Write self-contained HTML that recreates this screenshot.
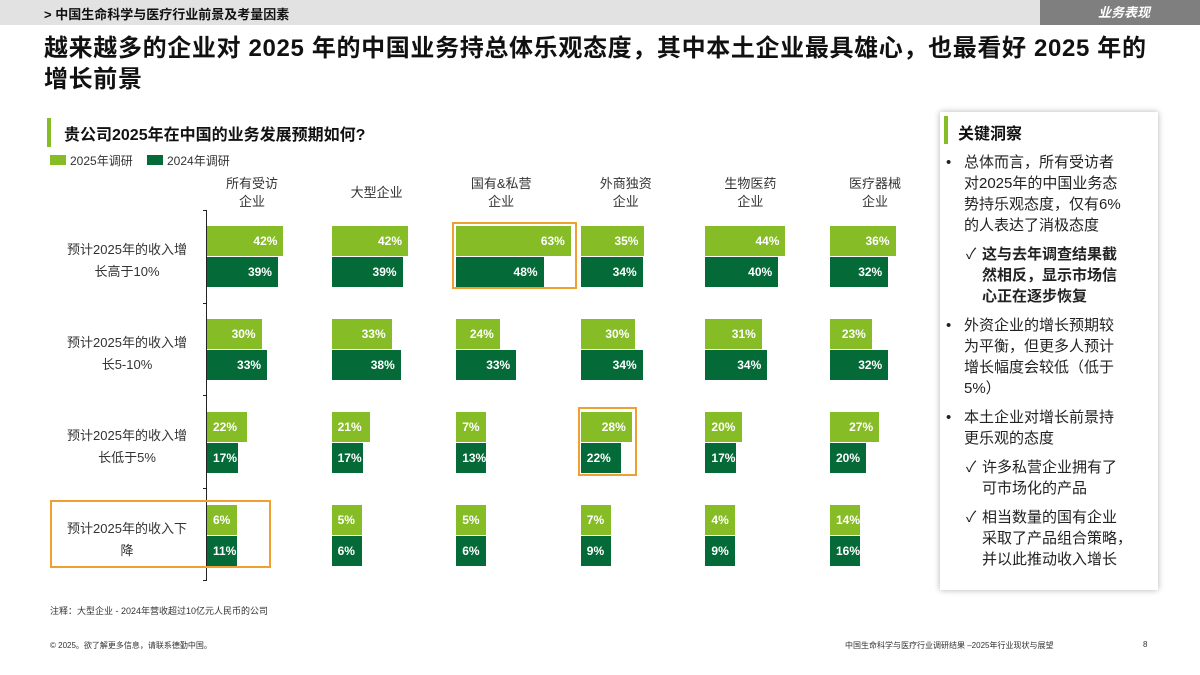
<!DOCTYPE html>
<html><head><meta charset="utf-8"><style>
body{margin:0;width:1200px;height:675px;overflow:hidden;background:#fff;font-family:"Liberation Sans","Noto Sans CJK SC",sans-serif;position:relative}
.abs{position:absolute}
.bar{position:absolute;color:#fff;font-size:12px;font-weight:bold;line-height:30px;box-sizing:border-box}
</style></head><body>
<div class="abs" style="left:0;top:0;width:1200px;height:25px;background:#e2e2e2"></div>
<div class="abs" style="left:44px;top:4px;font-size:13px;font-weight:bold;color:#111">&gt; 中国生命科学与医疗行业前景及考量因素</div>
<div class="abs" style="left:1040px;top:0;width:160px;height:25px;background:#7f7f7f;color:#fff;font-style:italic;font-weight:bold;font-size:13px;line-height:25px;text-align:right"><span style="margin-right:50px">业务表现</span></div>
<div class="abs" style="left:44px;top:33px;width:1150px;font-size:24px;letter-spacing:0.65px;font-weight:bold;line-height:31px;color:#111;white-space:nowrap">越来越多的企业对 2025 年的中国业务持总体乐观态度，其中本土企业最具雄心，也最看好 2025 年的<br>增长前景</div>
<div class="abs" style="left:47px;top:118px;width:4px;height:29px;background:#86bc25"></div>
<div class="abs" style="left:64px;top:121px;font-size:16px;font-weight:bold;color:#111">贵公司2025年在中国的业务发展预期如何?</div>
<div class="abs" style="left:50px;top:152px;font-size:12px;color:#333"><span style="display:inline-block;width:16px;height:10px;background:#86bc25;margin-right:4px"></span>2025年调研</div>
<div class="abs" style="left:147px;top:152px;font-size:12px;color:#333"><span style="display:inline-block;width:16px;height:10px;background:#046a38;margin-right:4px"></span>2024年调研</div>
<div id="chart"></div>

<div class="abs" style="left:940px;top:112px;width:218px;height:478px;background:#fff;box-shadow:0 0 6px rgba(0,0,0,0.3)">
<div class="abs" style="left:4px;top:4px;width:4px;height:28px;background:#86bc25"></div>
<div class="abs" style="left:18px;top:8px;font-size:16px;font-weight:bold;color:#111">关键洞察</div>
<div class="abs ins" style="left:0;top:40px;width:218px;font-size:15px;line-height:21px;color:#222"></div>
</div>
<script>
const categories=["所有受访<br>企业","大型企业","国有&私营<br>企业","外商独资<br>企业","生物医药<br>企业","医疗器械<br>企业"];
const rowLabels=["预计2025年的收入增<br>长高于10%","预计2025年的收入增<br>长5-10%","预计2025年的收入增<br>长低于5%","预计2025年的收入下<br>降"];
const v2025=[[42,42,63,35,44,36],[30,33,24,30,31,23],[22,21,7,28,20,27],[6,5,5,7,4,14]];
const v2024=[[39,39,48,34,40,32],[33,38,33,34,34,32],[17,17,13,22,17,20],[11,6,6,9,9,16]];
const ch=document.getElementById('chart');
const gx=i=>207+i*124.6, ry=r=>226+r*93, w=v=>Math.max(v*1.82,30);
function mk(cls,style,html){const d=document.createElement('div');d.className=cls;d.style.cssText=style;d.innerHTML=html||'';ch.appendChild(d);return d;}
const ax=mk('abs','left:206px;top:210px;width:1px;height:370px;background:#222');


for(let t=0;t<5;t++){const tk=mk('abs',`left:203px;top:${210+t*92.5}px;width:4px;height:1px;background:#222`);

}
categories.forEach((c,i)=>{const h=mk('abs',`left:${gx(i)-15}px;top:175px;width:120px;text-align:center;font-size:13px;line-height:18px;color:#333`,c);
if(!c.includes('<br>'))h.style.top='184px';

});
rowLabels.forEach((l,r)=>{const d=mk('abs',`left:52px;top:${ry(r)+13}px;width:150px;text-align:center;font-size:13px;line-height:22px;color:#333`,l);


for(let i=0;i<6;i++){
const a=mk('bar',`left:${gx(i)}px;top:${ry(r)}px;width:${w(v2025[r][i])}px;height:30px;background:#86bc25;text-align:${v2025[r][i]>22?'right':'left'};padding:0 6px`,v2025[r][i]+'%');


const b=mk('bar',`left:${gx(i)}px;top:${ry(r)+31}px;width:${w(v2024[r][i])}px;height:30px;background:#046a38;text-align:${v2024[r][i]>22?'right':'left'};padding:0 6px`,v2024[r][i]+'%');

}});
[[452,222,125,67],[578,407,59,69],[50,500,221,68]].forEach(b=>{const d=mk('abs',`left:${b[0]}px;top:${b[1]}px;width:${b[2]}px;height:${b[3]}px;border:2px solid #f0a030;box-sizing:border-box`);

});
const it=document.querySelector('.ins');
const items=[['b','总体而言，所有受访者<br>对2025年的中国业务态<br>势持乐观态度，仅有6%<br>的人表达了消极态度'],['c','<b>这与去年调查结果截<br>然相反，显示市场信<br>心正在逐步恢复</b>'],['b','外资企业的增长预期较<br>为平衡，但更多人预计<br>增长幅度会较低（低于<br>5%）'],['b','本土企业对增长前景持<br>更乐观的态度'],['c','许多私营企业拥有了<br>可市场化的产品'],['c','相当数量的国有企业<br>采取了产品组合策略，<br>并以此推动收入增长']];
items.forEach(([k,t])=>{const d=document.createElement('div');
d.style.cssText=`position:relative;white-space:nowrap;padding-left:${k=='b'?24:42}px;margin-bottom:8px`;
d.innerHTML=`<span style="position:absolute;left:${k=='b'?6:26}px">${k=='b'?'•':'✓'}</span>`+t;


it.appendChild(d);});
</script>
<div class="abs" style="left:50px;top:604px;font-size:9px;color:#333">注释：大型企业 - 2024年营收超过10亿元人民币的公司</div>
<div class="abs" style="left:50px;top:640px;font-size:8px;color:#333">© 2025。欲了解更多信息，请联系德勤中国。</div>
<div class="abs" style="left:845px;top:640px;font-size:8px;color:#333">中国生命科学与医疗行业调研结果 –2025年行业现状与展望</div>
<div class="abs" style="left:1143px;top:640px;font-size:8px;color:#333">8</div>
</body></html>
